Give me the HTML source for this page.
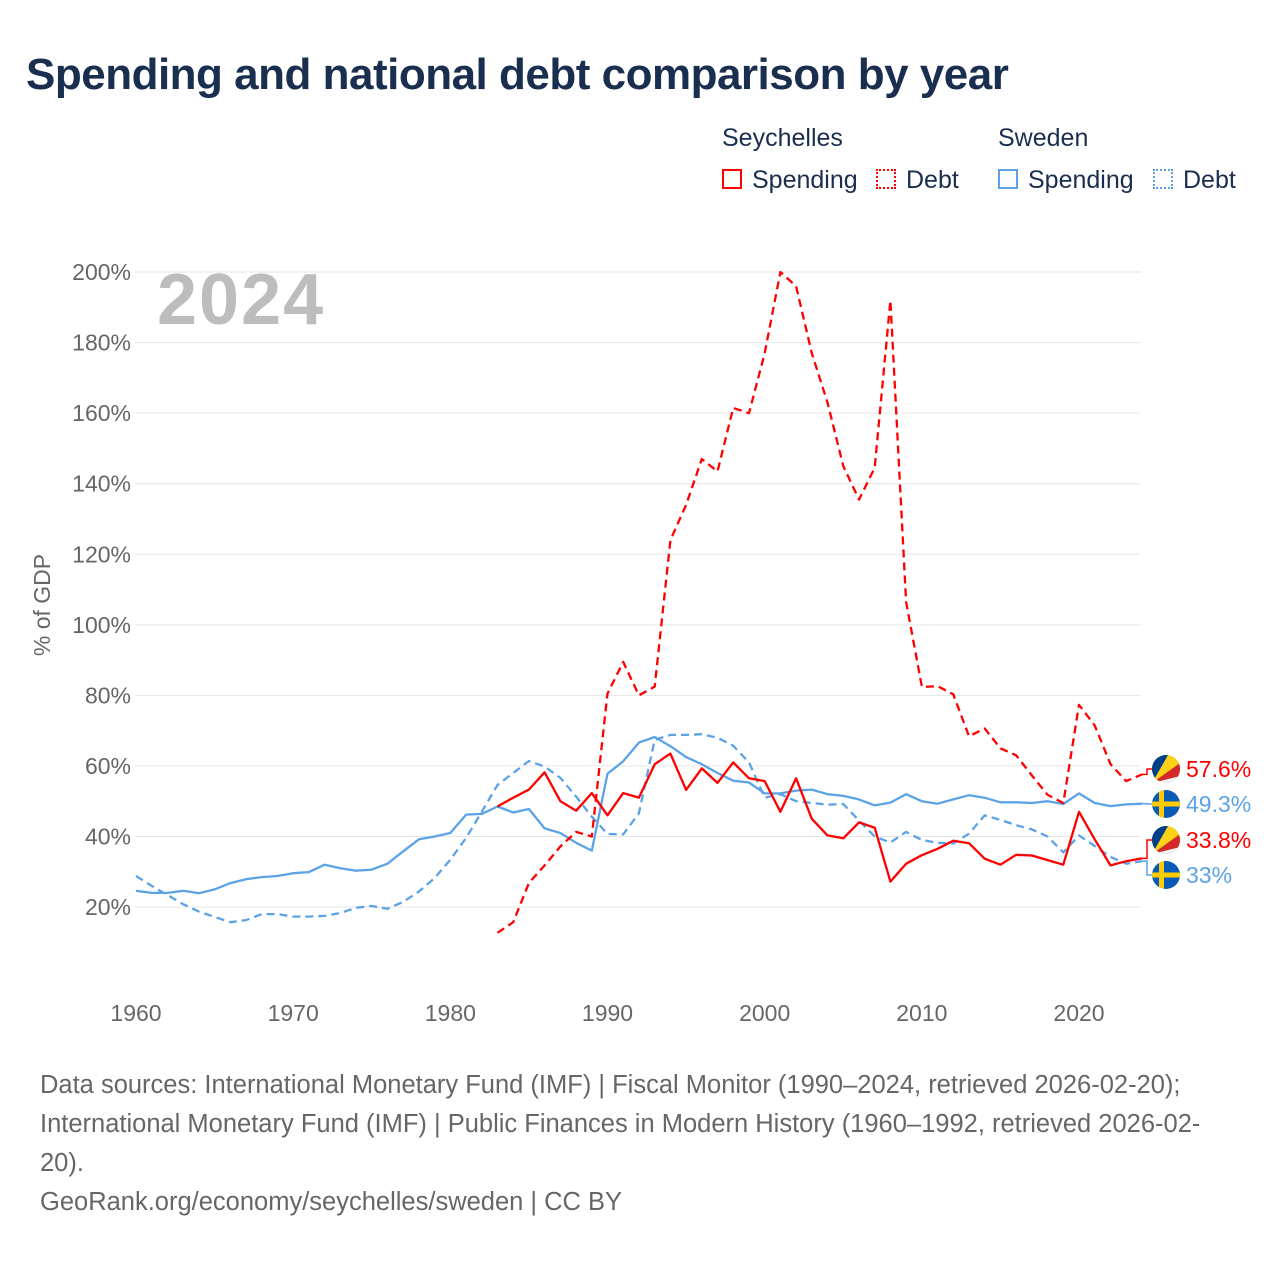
<!DOCTYPE html>
<html><head><meta charset="utf-8">
<style>
html,body{margin:0;padding:0;background:#fff;width:1280px;height:1280px;overflow:hidden;font-family:"Liberation Sans",sans-serif}
#wrap{position:relative;width:1280px;height:1280px}
.title{position:absolute;left:26px;top:50px;font-size:44px;font-weight:bold;color:#1a2e4f;letter-spacing:-0.5px;margin:0}
.lg{position:absolute;font-size:25px;color:#1a2e4f}
.box{position:absolute;width:20px;height:20px;box-sizing:border-box}
.foot{position:absolute;left:40px;top:1066px;font-size:25.5px;color:#666;line-height:39px;width:1195px}
</style></head>
<body><div id="wrap">
<h1 class="title">Spending and national debt comparison by year</h1>
<div class="lg" style="left:722px;top:124px">Seychelles</div>
<div class="lg" style="left:998px;top:124px">Sweden</div>
<div class="box" style="left:722px;top:169px;border:2px solid #f00"></div>
<div class="lg" style="left:752px;top:166px">Spending</div>
<div class="box" style="left:876px;top:169px;border:2px dotted #f00"></div>
<div class="lg" style="left:906px;top:166px">Debt</div>
<div class="box" style="left:998px;top:169px;border:2px solid #5ca3e6"></div>
<div class="lg" style="left:1028px;top:166px">Spending</div>
<div class="box" style="left:1153px;top:169px;border:2px dotted #5ca3e6"></div>
<div class="lg" style="left:1183px;top:166px">Debt</div>
<svg id="chart" width="1280" height="1280" style="position:absolute;left:0;top:0"></svg>
<div class="foot">Data sources: International Monetary Fund (IMF) | Fiscal Monitor (1990–2024, retrieved 2026-02-20); International Monetary Fund (IMF) | Public Finances in Modern History (1960–1992, retrieved 2026-02-20).<br>GeoRank.org/economy/seychelles/sweden | CC BY</div>
</div>
<script>
const yTicks=[20,40,60,80,100,120,140,160,180,200];
const xTicks=[1960,1970,1980,1990,2000,2010,2020];
const sweSpendStart=1960;
const sweSpend=[24.6,24,24,24.6,23.9,25,26.8,27.9,28.5,28.8,29.6,29.9,32,31,30.3,30.6,32.3,35.8,39.2,40,41,46.2,46.4,48.5,46.8,47.8,42.3,41,38.2,36,57.8,61.3,66.6,68.2,65.6,62.5,60.5,58,55.8,55.3,52.2,52.2,53,53.3,52,51.5,50.5,48.8,49.6,52,50,49.3,50.5,51.7,51,49.7,49.7,49.5,50,49.2,52.2,49.5,48.6,49.1,49.3];
const sweDebtStart=1960;
const sweDebt=[28.8,26,23.4,20.8,18.7,17.2,15.7,16.3,18,18,17.3,17.3,17.5,18.3,19.8,20.3,19.5,21.5,24.4,28.2,33.4,39.6,47,54.6,58,61.4,59.8,56.6,51.3,45.6,40.7,40.6,46.6,67.4,68.8,68.8,69,68,65.7,61,51,52,50,49.5,49,49.2,44.5,40,38.3,41.3,39,38.2,38,40.8,46,44.7,43.2,42,40,35.5,40.3,37.3,34.2,32.3,33];
const syzSpendStart=1983;
const syzSpend=[48.5,51,53.3,58.2,50,47.3,52.3,46,52.3,51,60.5,63.5,53.2,59.3,55.2,61,56.5,55.7,47,56.5,45,40.3,39.5,44,42.5,27.2,32.3,34.7,36.5,38.8,38.1,33.7,32,34.8,34.6,33.3,32,47,39.2,31.8,33,33.8];
const syzDebtStart=1983;
const syzDebt=[12.7,15.7,26.8,31.8,37.2,41.3,40,80.5,89.5,80,82.5,124,134,147,143.5,161.5,160,177,200,196,177,163,145,135.5,144.5,192,106.5,82.4,82.6,80.3,68.4,70.6,65,63,57.3,51.8,49.5,77.3,71.5,60.5,55.7,57.6];

const svg=document.getElementById('chart');
const NS='http://www.w3.org/2000/svg';
function X(yr){return 136+(yr-1960)*15.717;}
function Y(v){return 977.6-v*3.5278;}
function mk(tag,attrs,parent){const e=document.createElementNS(NS,tag);for(const k in attrs)e.setAttribute(k,attrs[k]);(parent||svg).appendChild(e);return e;}

yTicks.forEach(t=>{
  const l=mk('line',{x1:135,x2:1141,y1:Y(t),y2:Y(t),stroke:'#e6e6e6','stroke-width':1});
  
  
  const tx=mk('text',{x:131,y:Y(t)+8,'text-anchor':'end','font-size':23,fill:'#666','font-family':'Liberation Sans, sans-serif'});
  tx.textContent=t+'%';
  
  
});
xTicks.forEach(t=>{
  const tx=mk('text',{x:X(t),y:1021,'text-anchor':'middle','font-size':23,fill:'#666','font-family':'Liberation Sans, sans-serif'});
  tx.textContent=t;
  
  
});
const yt=mk('text',{x:0,y:0,transform:'translate(50,605) rotate(-90)','text-anchor':'middle','font-size':23,fill:'#666','font-family':'Liberation Sans, sans-serif'});
yt.textContent='% of GDP';


const yr=mk('text',{x:157,y:324,'font-size':72,'font-weight':'bold',fill:'#bdbdbd','letter-spacing':'2','font-family':'Liberation Sans, sans-serif'});
yr.textContent='2024';



function series(arr,start,color,dash,name){
  const d=arr.map((v,i)=>(i?'L':'M')+X(start+i).toFixed(1)+','+Y(v).toFixed(1)).join(' ');
  const p=mk('path',{d:d,fill:'none',stroke:color,'stroke-width':2.3,'stroke-dasharray':dash||'none','stroke-linejoin':'round'});
  
  
}
series(sweDebt,sweDebtStart,'#5ca3e6','8,5','line-sweden-debt');
series(sweSpend,sweSpendStart,'#5ca3e6','','line-sweden-spending');
series(syzDebt,syzDebtStart,'#f00','8,5','line-seychelles-debt');
series(syzSpend,syzSpendStart,'#f00','','line-seychelles-spending');

function flag(cx,cy,kind,name){
  const g=mk('g',{});
  
  
  const id='c'+Math.round(cy);
  const cp=mk('clipPath',{id:id},g);mk('circle',{cx:cx,cy:cy,r:14},cp);
  const gg=mk('g',{'clip-path':'url(#'+id+')'},g);
  if(kind==='se'){
    mk('rect',{x:cx-14,y:cy-14,width:28,height:28,fill:'#0a5bb8'},gg);
    mk('rect',{x:cx-7,y:cy-14,width:5,height:28,fill:'#fecc00'},gg);
    mk('rect',{x:cx-14,y:cy-2.5,width:28,height:5,fill:'#fecc00'},gg);
  }else{
    const bx=cx-14,by=cy+14;
    mk('rect',{x:cx-14,y:cy-14,width:28,height:28,fill:'#7aab3e'},gg);
    mk('polygon',{points:`${bx},${by} ${bx+28},${by} ${bx+28},${by-7}`,fill:'#f2f2f2'},gg);
    mk('polygon',{points:`${bx},${by} ${bx+28},${by-7} ${bx+28},${by-20}`,fill:'#d62828'},gg);
    mk('polygon',{points:`${bx},${by} ${bx+28},${by-20} ${bx+28},${by-28} ${bx+16},${by-28}`,fill:'#fcd116'},gg);
    mk('polygon',{points:`${bx},${by} ${bx+16},${by-28} ${bx},${by-28}`,fill:'#003f87'},gg);
  }
}
function endLabel(v,ly,color,kind,name){
  const yv=Y(v);
  mk('path',{d:`M1141,${yv} L1147,${yv} L1147,${ly} L1152,${ly}`,fill:'none',stroke:color,'stroke-width':1.5});
  flag(1166,ly,kind,'flag-'+name);
  const t=mk('text',{x:1186,y:ly+8,'font-size':23,fill:color,'font-family':'Liberation Sans, sans-serif'});
  t.textContent=v+'%';
  
  
}
endLabel(syzDebt[syzDebt.length-1],769,'#f00','sc','seychelles-debt');
endLabel(sweSpend[sweSpend.length-1],804,'#5ca3e6','se','sweden-spending');
endLabel(syzSpend[syzSpend.length-1],840,'#f00','sc','seychelles-spending');
endLabel(sweDebt[sweDebt.length-1],875,'#5ca3e6','se','sweden-debt');
</script>
</body></html>
